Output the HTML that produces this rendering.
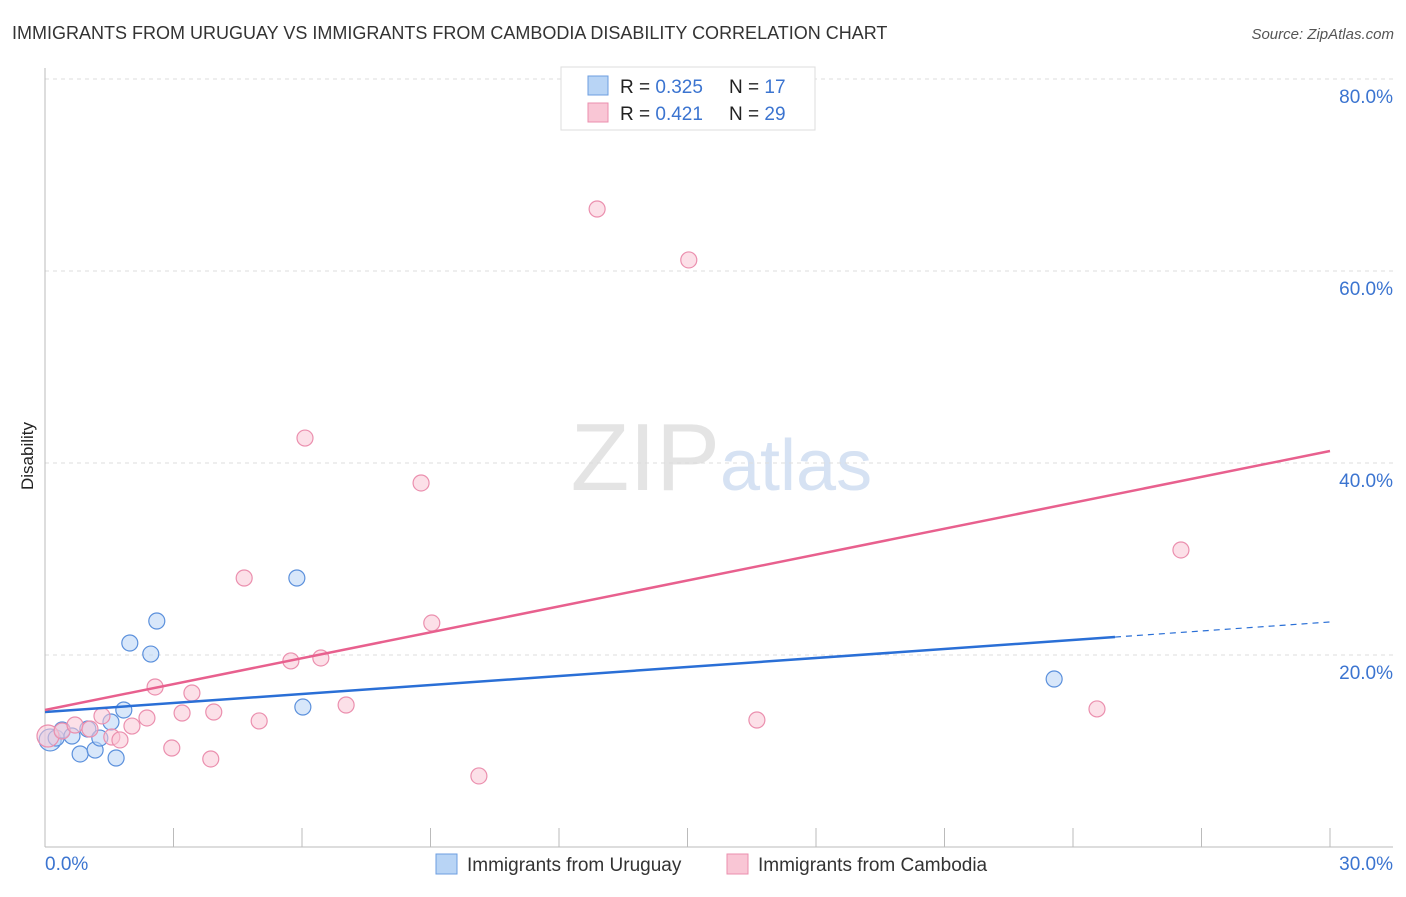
<!DOCTYPE html>
<html><head><meta charset="utf-8"><style>
body{margin:0;background:#fff;font-family:"Liberation Sans",sans-serif;}
svg text{font-family:"Liberation Sans",sans-serif;}
</style></head><body>
<svg width="1406" height="892" id="c">
<text x="12" y="39" font-size="18" fill="#333">IMMIGRANTS FROM URUGUAY VS IMMIGRANTS FROM CAMBODIA DISABILITY CORRELATION CHART</text>
<text x="1394" y="39" font-size="15" fill="#555" font-style="italic" text-anchor="end">Source: ZipAtlas.com</text>
<text x="33" y="456" font-size="17" fill="#222" text-anchor="middle" transform="rotate(-90 33 456)">Disability</text>
<text x="720" y="490" font-size="96" fill="#e4e4e4" text-anchor="end" font-family="Liberation Serif">ZIP</text>
<text x="720" y="490" font-size="72" fill="#d6e2f3">atlas</text>
<g id="grid"></g><g id="marks"></g>
<g>
<rect x="561" y="67" width="254" height="63" fill="#fff" stroke="#ddd"/>
<rect x="588" y="76" width="20" height="19" fill="#b8d4f5" stroke="#6c9ee0"/>
<rect x="588" y="103" width="20" height="19" fill="#f9c6d5" stroke="#eb8fae"/>
<text x="620" y="93" font-size="19" fill="#222">R = <tspan fill="#3b74d0">0.325</tspan></text>
<text x="729" y="93" font-size="19" fill="#222">N = <tspan fill="#3b74d0"> 17</tspan></text>
<text x="620" y="120" font-size="19" fill="#222">R = <tspan fill="#3b74d0"> 0.421</tspan></text>
<text x="729" y="120" font-size="19" fill="#222">N = <tspan fill="#3b74d0">29</tspan></text>
</g>
<g>
<rect x="436" y="854" width="21" height="20" fill="#b8d4f5" stroke="#6c9ee0"/>
<text x="467" y="871" font-size="19" fill="#333">Immigrants from Uruguay</text>
<rect x="727" y="854" width="21" height="20" fill="#f9c6d5" stroke="#eb8fae"/>
<text x="758" y="871" font-size="19" fill="#333">Immigrants from Cambodia</text>
</g>
</svg>
<script>
const blueX=[0.12,0.26,0.40,0.63,0.82,1.00,1.17,1.28,1.54,1.66,1.84,1.98,2.47,2.61,5.88,6.02,23.56];
const blueY=[11.15,11.35,12.19,11.56,9.69,12.29,10.1,11.35,13.02,9.27,14.27,21.25,20.1,23.54,28.02,14.58,17.5];
const pinkX=[0.07,0.40,0.70,1.05,1.33,1.56,1.75,2.03,2.38,2.57,2.96,3.20,3.43,3.87,3.94,4.65,5.00,5.74,6.07,6.44,7.03,8.78,9.03,10.13,12.89,15.03,16.62,24.56,26.52];
const pinkY=[11.56,12.08,12.71,12.29,13.65,11.46,11.15,12.6,13.44,16.67,10.31,13.96,16.04,9.17,14.06,28.02,13.13,19.38,42.6,19.69,14.79,37.92,23.33,7.4,66.46,61.15,13.23,14.38,30.94];
const blueTrend=[14.06,23.44];
const pinkTrend=[14.27,41.25];
const yTicks=[20,40,60,80];
const xTickVals=[0,3,6,9,12,15,18,21,24,27,30];
const NS='http://www.w3.org/2000/svg';
const X=v=>45+v*1285/30, Y=v=>847-v*9.6;
function mk(t,a,p){const e=document.createElementNS(NS,t);for(const k in a)e.setAttribute(k,a[k]);p.appendChild(e);return e;}
const g=document.getElementById('grid'),m=document.getElementById('marks');
yTicks.forEach(v=>{
 const l=mk('line',{x1:45,x2:1393,y1:Y(v),y2:Y(v),stroke:'#ddd','stroke-dasharray':'4,4'},g);
 
 
 const t=mk('text',{x:1393,y:Y(v)+24,'font-size':19,fill:'#3b74d0','text-anchor':'end'},g);t.textContent=v.toFixed(1)+'%';
 
 
});
const ax=mk('line',{x1:45,x2:1393,y1:847,y2:847,stroke:'#bbb'},g);


const ay=mk('line',{x1:45,x2:45,y1:68,y2:847,stroke:'#bbb'},g);


xTickVals.forEach(v=>{
 const l=mk('line',{x1:X(v),x2:X(v),y1:828,y2:847,stroke:'#bbb'},g);
 
 
});
[[0,'start'],[30,'end']].forEach(([v,a])=>{
 const t=mk('text',{x:a=='start'?X(v):X(v)+63,y:870,'font-size':19,fill:'#3b74d0','text-anchor':a},g);t.textContent=v.toFixed(1)+'%';
 
 
});
function pts(xs,ys,f,s,n){xs.forEach((x,i)=>{
 const c=mk('circle',{cx:X(x),cy:Y(ys[i]),r:i==0?11:8,fill:f,'fill-opacity':0.55,stroke:s,'stroke-width':1.2},m);
 
 
});}
pts(blueX,blueY,'#b8d4f5','#5b90dc','uruguay');
pts(pinkX,pinkY,'#f9c6d5','#eb8fae','cambodia');
const bEnd=24.98,bAt=v=>blueTrend[0]+(blueTrend[1]-blueTrend[0])*v/30;
const b1=mk('line',{x1:X(0),y1:Y(bAt(0)),x2:X(bEnd),y2:Y(bAt(bEnd)),stroke:'#2a6fd6','stroke-width':2.5},m);


const b2=mk('line',{x1:X(bEnd),y1:Y(bAt(bEnd)),x2:X(30),y2:Y(bAt(30)),stroke:'#2a6fd6','stroke-width':1.2,'stroke-dasharray':'6,5'},m);


const p1=mk('line',{x1:X(0),y1:Y(pinkTrend[0]),x2:X(30),y2:Y(pinkTrend[1]),stroke:'#e8608e','stroke-width':2.5},m);


</script>
</body></html>
